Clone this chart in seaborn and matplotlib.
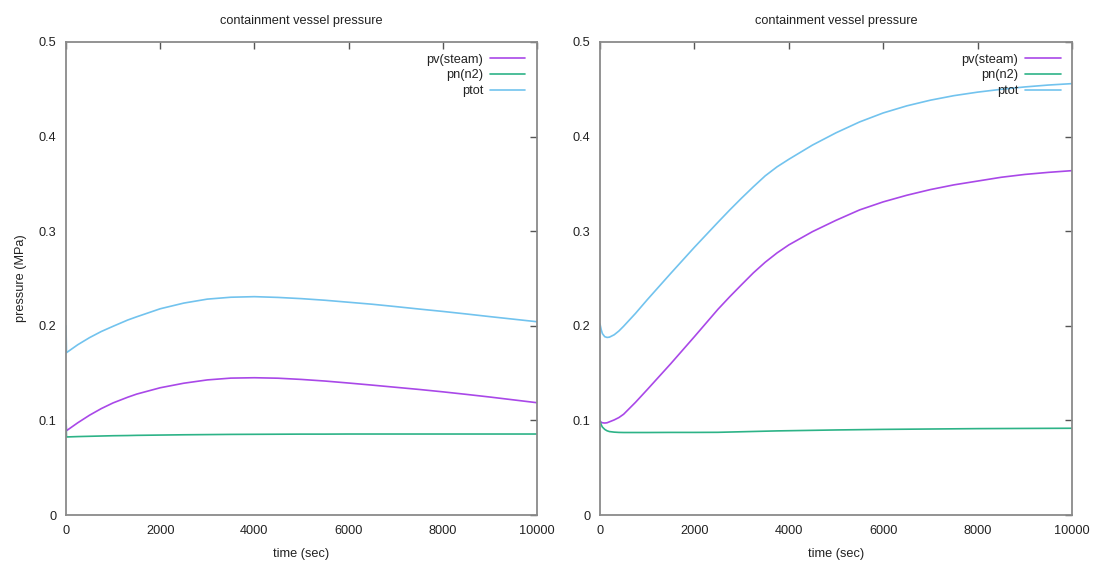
import matplotlib
matplotlib.use("Agg")
import matplotlib.pyplot as plt
from matplotlib.ticker import FuncFormatter, MultipleLocator
import seaborn as sns

sns.set_style("white")
plt.rcParams["font.family"] = ["Liberation Sans", "DejaVu Sans"]

# ---- case 1 (left panel) ----
t_left = [0, 10, 250, 500, 750, 1000, 1310, 1500, 2000, 2500, 3000, 3500, 4000,
          4500, 5000, 5500, 6000, 6500, 7000, 7500, 8000, 8500, 9000, 9500, 10000]
pv_left = [0.100, 0.0891, 0.0975, 0.1055, 0.1125, 0.1185, 0.1245, 0.1278, 0.1345,
           0.1393, 0.1428, 0.1447, 0.1451, 0.1446, 0.1433, 0.1416, 0.1395, 0.1373,
           0.1350, 0.1327, 0.1302, 0.1275, 0.1247, 0.1217, 0.1187]
pn_left = [0.100, 0.0825, 0.0829, 0.0832, 0.0835, 0.0838, 0.0840, 0.0842, 0.0845,
           0.0848, 0.0850, 0.0852, 0.0853, 0.0854, 0.0855, 0.0855, 0.0856, 0.0856,
           0.0856, 0.0856, 0.0856, 0.0856, 0.0856, 0.0856, 0.0856]
ptot_left = [0.200, 0.1716, 0.1800, 0.1875, 0.1940, 0.1995, 0.2061, 0.2095, 0.2180,
             0.2240, 0.2282, 0.2302, 0.2308, 0.2300, 0.2287, 0.2270, 0.2249, 0.2228,
             0.2203, 0.2177, 0.2152, 0.2125, 0.2097, 0.2070, 0.2043]

# ---- case 2 (right panel) ----
t_right = [0, 25, 50, 100, 150, 200, 300, 400, 500, 750, 1000, 1500, 2000, 2500,
           2750, 3000, 3250, 3500, 3750, 4000, 4500, 5000, 5500, 6000, 6500, 7000,
           7500, 8000, 8500, 9000, 9500, 10000]
pv_right = [0.0995, 0.0980, 0.0975, 0.0972, 0.0975, 0.0985, 0.1005, 0.1030, 0.1065,
            0.1190, 0.1325, 0.1600, 0.1885, 0.2175, 0.2308, 0.2435, 0.2560, 0.2672,
            0.2770, 0.2855, 0.2995, 0.3115, 0.3225, 0.3310, 0.3380, 0.3440, 0.3490,
            0.3530, 0.3570, 0.3600, 0.3622, 0.3640]
pn_right = [0.0995, 0.0955, 0.0930, 0.0905, 0.0890, 0.0882, 0.0876, 0.0873, 0.0872,
            0.0872, 0.0872, 0.0873, 0.0873, 0.0874, 0.0877, 0.0880, 0.0883, 0.0886,
            0.0889, 0.0891, 0.0895, 0.0899, 0.0902, 0.0905, 0.0907, 0.0909, 0.0911,
            0.0913, 0.0914, 0.0915, 0.0916, 0.0917]
ptot_right = [0.2018, 0.1960, 0.1918, 0.1885, 0.1877, 0.1880, 0.1905, 0.1945, 0.1995,
              0.2130, 0.2275, 0.2555, 0.2830, 0.3095, 0.3225, 0.3350, 0.3470, 0.3585,
              0.3680, 0.3760, 0.3910, 0.4040, 0.4155, 0.4250, 0.4325, 0.4385, 0.4433,
              0.4470, 0.4500, 0.4525, 0.4545, 0.4560]

labels = ["pv(steam)", "pn(n2)", "ptot"]
colors = ["#a948e8", "#2db387", "#72c3ee"]

title = "containment vessel pressure"
xlabel = "time (sec)"
ylabel = "pressure (MPa)"

fig = plt.figure(figsize=(10.94, 5.65), dpi=100)
ax1 = fig.add_axes([66 / 1094, 1 - 515 / 565, 471 / 1094, 473 / 565])
ax2 = fig.add_axes([600 / 1094, 1 - 515 / 565, 472 / 1094, 473 / 565])

frame_col = "#8a8a8a"
fs = 9.2


def draw(ax, t, series, show_ylabel):
    for y, lab, col in zip(series, labels, colors):
        sns.lineplot(x=t, y=y, ax=ax, color=col, label=lab, linewidth=1.2,
                     estimator=None, sort=False)
    ax.set_xlim(0, 10000)
    ax.set_ylim(0, 0.5)
    ax.xaxis.set_major_locator(MultipleLocator(2000))
    ax.yaxis.set_major_locator(MultipleLocator(0.1))
    fmt = FuncFormatter(lambda v, p: "%g" % round(v, 6))
    ax.xaxis.set_major_formatter(fmt)
    ax.yaxis.set_major_formatter(fmt)
    ax.tick_params(direction="in", length=5, width=1, color="#555555",
                   top=True, right=True, labelsize=fs, labelcolor="#222222",
                   pad=7)
    for s in ax.spines.values():
        s.set_color(frame_col)
        s.set_linewidth(1.3)
    ax.set_title(title, fontsize=fs, color="#222222", pad=12.8)
    ax.set_xlabel(xlabel, fontsize=fs, color="#222222", labelpad=8)
    if show_ylabel:
        ax.set_ylabel(ylabel, fontsize=fs, color="#222222", labelpad=8)
    else:
        ax.set_ylabel("")
    leg = ax.legend(loc="upper right", frameon=False, markerfirst=False,
                    fontsize=fs, handlelength=2.75, handletextpad=0.55,
                    labelspacing=0.3, borderaxespad=0.5)
    for txt in leg.get_texts():
        txt.set_color("#222222")


draw(ax1, t_left, [pv_left, pn_left, ptot_left], True)
draw(ax2, t_right, [pv_right, pn_right, ptot_right], False)

fig.savefig("out.png", dpi=100, facecolor="white")
